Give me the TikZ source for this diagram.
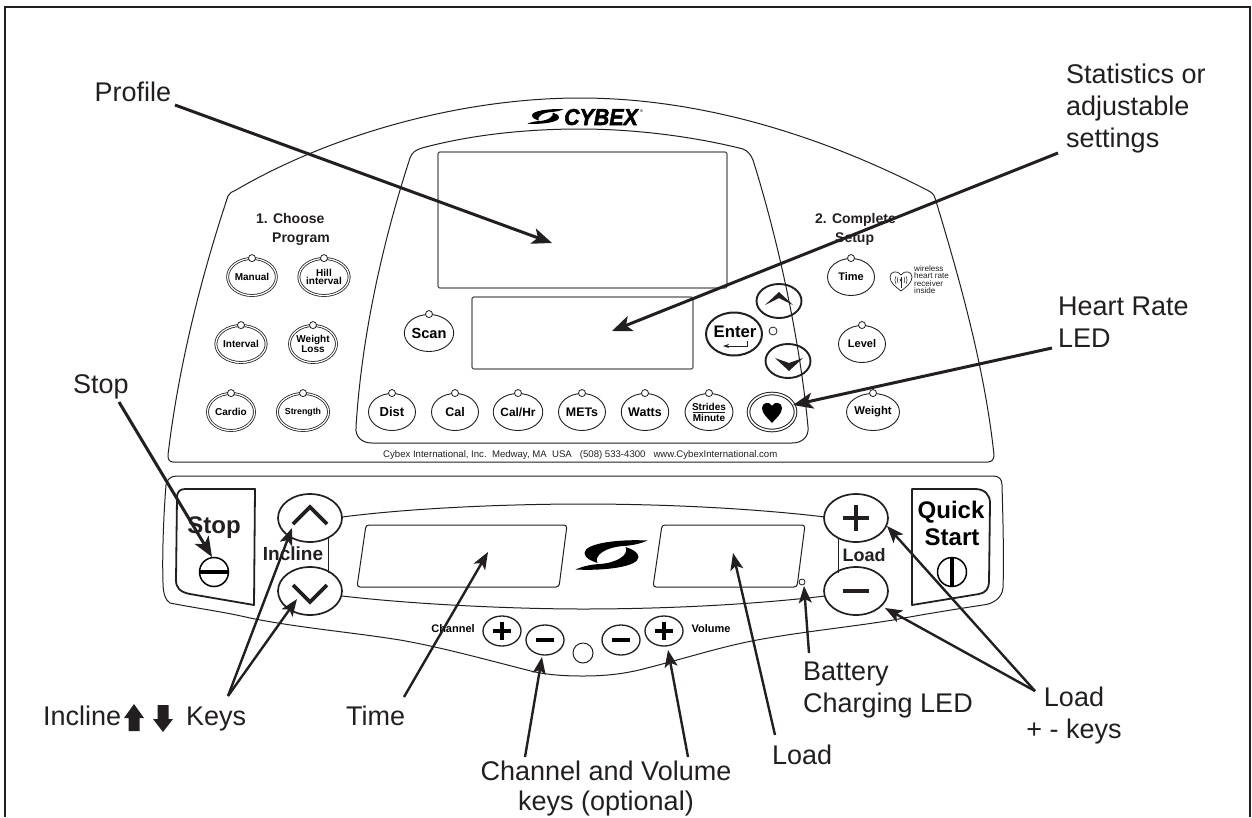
\documentclass[tikz,border=0pt]{standalone}
\usepackage{fontspec}
\setmainfont{Liberation Sans}
\newfontfamily\logofont[FakeBold=2.2]{Liberation Sans}
\usetikzlibrary{arrows.meta,shapes.geometric,calc}
\definecolor{ink}{HTML}{231F20}
\definecolor{grayline}{HTML}{58595B}
\newcommand\fsb[1]{\fontsize{#1}{#1}\selectfont\bfseries}
\newcommand\logoswoosh[3]{%
  \begin{scope}[shift={(#1,#2)},scale=#3]
    \fill[black] (36,-14.5) .. controls (8,-16) and (-27,-12) .. (-27,-2)
       .. controls (-27,3) and (-20,6) .. (-14,8)
       .. controls (-18,0) and (-5,-8) .. (12,-9)
       .. controls (20,-9.5) and (28,-11) .. cycle;
    \fill[black] (-36,14.5) .. controls (-8,16) and (27,12) .. (27,2)
       .. controls (27,-3) and (20,-6) .. (14,-8)
       .. controls (18,0) and (5,8) .. (-12,9)
       .. controls (-20,9.5) and (-28,11) .. cycle;
  \end{scope}}
\tikzset{
  callout/.style={font=\fontsize{27}{32}\selectfont,text=ink,inner sep=0,anchor=base west,align=left},
  paneltext/.style={font=\fsb{14},text=ink,inner sep=0,anchor=base west},
  panelline/.style={draw=ink,line width=1},
  dispbox/.style={draw=grayline,line width=1.2,rounded corners=2},
  btn/.style={ellipse,draw=ink,line width=.9,minimum width=47,minimum height=37,inner sep=0,align=center,text=black},
  ringbtn/.style={btn,double,double distance=1.2,line width=.8},
  ledspot/.style={circle,draw=ink,fill=white,line width=.8,minimum size=7,inner sep=0},
  navbtn/.style={ellipse,draw=ink,line width=1.9,minimum width=45,minimum height=34,inner sep=0},
  bigkey/.style={ellipse,draw=ink,line width=1.7,minimum width=64,minimum height=48,inner sep=0},
  smallkey/.style={ellipse,draw=ink,line width=1.3,minimum width=38,minimum height=30,inner sep=0},
  glyphline/.style={draw=ink,line width=3.6},
  smallglyph/.style={draw=black,line width=3.8},
  keybox/.style={draw=ink,line width=1.8,line join=round},
  pointer/.style={draw=ink,line width=3,-{Stealth[length=20pt,width=16pt,inset=5pt]}},
  pointerthin/.style={draw=ink,line width=2.4,-{Stealth[length=17pt,width=13pt,inset=4pt]}}
}
\begin{document}
\begin{tikzpicture}[x=1pt,y=-1pt]
\useasboundingbox (0,0) rectangle (1252,817);
\fill[white] (0,0) rectangle (1252,817);
% frame
\draw[ink,line width=2.2] (5,817) -- (5,7) -- (1250,7) -- (1250,817);

% upper panel
\draw[panelline] (236,190) .. controls (330,135) and (460,98) .. (580,98)
  .. controls (700,98) and (820,135) .. (927,190)
  .. controls (931,192) and (934,194) .. (935,198)
  .. controls (960,280) and (985,370) .. (994,455)
  .. controls (994,459) and (992,462) .. (988,462)
  -- (173,462) .. controls (169,462) and (168,459) .. (168,455)
  .. controls (178,370) and (200,280) .. (228,196)
  .. controls (229,193) and (232,192) .. cycle;
\draw[panelline] (422,148) .. controls (470,135) and (525,129) .. (580,129)
  .. controls (640,129) and (700,138) .. (743,149)
  .. controls (748,151) and (751,155) .. (753,160)
  .. controls (778,240) and (800,340) .. (808,427)
  .. controls (809,437) and (802,443) .. (792,443)
  -- (372,443) .. controls (362,443) and (355,437) .. (356,427)
  .. controls (362,330) and (385,235) .. (410,158)
  .. controls (412,152) and (416,150) .. cycle;
\draw[dispbox] (438,152) rectangle (727,288);
\draw[dispbox] (472,297) rectangle (693,369);

% upper logo
\logoswoosh{545.5}{116.5}{.5}
\node[inner sep=0,anchor=base west,font=\fontsize{23}{23}\logofont\bfseries\itshape,xscale=.93] (brand) at (564,125) {CYBEX};
\node[inner sep=0,anchor=base west,font=\fontsize{4}{4}\selectfont] (brandreg) at (640,112) {®};

% headings
\node[paneltext] (choose1) at (256,223) {1. Choose};
\node[paneltext] (choose2) at (272,242) {Program};
\node[paneltext] (setup1) at (815,223) {2. Complete};
\node[paneltext] (setup2) at (835,242) {Setup};

% program buttons
\node[ringbtn,font={\fsb{10}}] (manual) at (252,277) {Manual};
\node[ringbtn,font={\fontsize{10}{8.5}\selectfont\bfseries}] (hill) at (324,277) {Hill\\interval};
\node[ringbtn,font={\fsb{10}}] (interval) at (241,344) {Interval};
\node[ringbtn,font={\fontsize{10}{8.5}\selectfont\bfseries}] (wloss) at (313,344) {Weight\\Loss};
\node[ringbtn,font={\fsb{10}}] (cardio) at (231,412) {Cardio};
\node[ringbtn,font={\fsb{8.8}}] (strength) at (303,412) {Strength};
% display buttons
\node[btn,font={\fsb{14.6}}] (scan) at (429,333) {Scan};
\node[btn,font={\fsb{13}}] (dist) at (392,412) {Dist};
\node[btn,font={\fsb{12.5}}] (cal) at (455,412) {Cal};
\node[btn,font={\fsb{11.9}}] (calhr) at (518,412) {Cal/Hr};
\node[btn,font={\fsb{12.4}}] (mets) at (582,412) {METs};
\node[btn,font={\fsb{12.5}}] (watts) at (645,412) {Watts};
\node[btn,font={\fontsize{10}{11}\selectfont\bfseries}] (strides) at (709,412) {Strides\\Minute};
\draw[ink,line width=.8] ($(strides)+(-16,0)$) -- ($(strides)+(16,0)$);
\node[btn,font={\fsb{11}}] (timeset) at (851,277) {Time};
\node[btn,font={\fsb{11}}] (level) at (862,344) {Level};
\node[btn,font={\fsb{11.3}}] (weight) at (873,412) {Weight};
\foreach \b in {manual,hill,interval,wloss,cardio,strength,scan,dist,cal,calhr,mets,watts,strides,timeset,level,weight}
  \node[ledspot] (\b led) at (\b.north) {};

% heart button
\node[ringbtn,line width=1,double distance=1.6] (heartbtn) at (772,412) {};
\fill[black] (772,423) .. controls (768,418) and (762,414) .. (762,408)
  .. controls (762,402) and (770,401) .. (772,406)
  .. controls (774,401) and (782,402) .. (782,408)
  .. controls (782,414) and (776,418) .. cycle;

% nav buttons
\node[navbtn] (navup) at (779,301) {};
\fill[ink] (765,305) -- (779,292) -- (793,305) -- (779,298) -- cycle;
\node[navbtn] (navdown) at (788,361) {};
\fill[ink] (775,358) -- (789,363) -- (803,358) -- (789,371) -- cycle;
\node[ellipse,draw=ink,line width=2,minimum width=56,minimum height=43,inner sep=0] (enter) at (734,334) {};
\node[inner sep=0,font={\fsb{16.7}}] (entertext) at (735,332) {Enter};
\draw[ink,line width=.9,-{Stealth[length=6pt,width=4pt]}] (747,341) -- (747,346) -- (723,346);
\node[ledspot,minimum size=8] (navled) at (773,331) {};

% wireless note
\draw[ink,line width=.7] (901,291) .. controls (896,287) and (890,283) .. (890,277)
  .. controls (890,271) and (898,270) .. (901,275)
  .. controls (904,270) and (912,271) .. (912,277)
  .. controls (912,283) and (906,287) .. cycle;
\draw[ink,line width=.8] (901,277) -- (901,288);
\fill[ink] (901,280) circle (1.3);
\draw[ink,line width=.5] (898,277) .. controls (897,279) and (897,281) .. (898,283)
  (896,276) .. controls (894.5,279) and (894.5,281) .. (896,284)
  (904,277) .. controls (905,279) and (905,281) .. (904,283)
  (906,276) .. controls (907.5,279) and (907.5,281) .. (906,284);
\node[inner sep=0,anchor=north west,align=left,text=ink,font=\fontsize{8.1}{7.5}\selectfont] (wireless) at (914,265) {wireless\\heart rate\\receiver\\inside};

% footer
\node[inner sep=0,anchor=base west,text=ink,font=\fontsize{9.6}{10}\selectfont] (footer) at (383,457) {Cybex International, Inc.\ \ Medway, MA\ \ USA\ \ \ (508) 533-4300\ \ \ www.CybexInternational.com};

% lower panel
\draw[panelline] (177,476) -- (993,476) .. controls (999,476) and (1002,479) .. (1002,485)
  .. controls (1003,520) and (1004,560) .. (1003,588)
  .. controls (1002,598) and (993,604) .. (983,605)
  .. controls (950,610) and (920,615) .. (893,620)
  .. controls (850,627) and (800,632) .. (757,640)
  .. controls (720,647) and (690,657) .. (647,668)
  .. controls (625,674) and (605,676) .. (583,676)
  .. controls (565,676) and (545,675) .. (527,670)
  .. controls (480,658) and (440,647) .. (400,640)
  .. controls (350,632) and (300,628) .. (250,618)
  .. controls (225,612) and (195,608) .. (170,603)
  .. controls (165,600) and (163,592) .. (163,583)
  .. controls (162,550) and (164,510) .. (166,485)
  .. controls (167,479) and (171,476) .. cycle;
% band lines
\draw[panelline] (342,517) .. controls (420,507) and (520,504) .. (583,504) .. controls (660,504) and (750,508) .. (825,517);
\draw[panelline] (342,596) .. controls (420,605) and (520,609) .. (583,609) .. controls (660,609) and (750,605) .. (825,596);
\draw[panelline] (328,538) -- (328,573);
\draw[panelline] (838,538) -- (838,573);
% displays
\draw[draw=ink,line width=1,rounded corners=3] (366,525) -- (567,525) -- (559,587) -- (357,587) -- cycle;
\draw[draw=ink,line width=1,rounded corners=3] (662,525) -- (805,525) -- (797,587) -- (653,587) -- cycle;
\logoswoosh{611.5}{555}{1}
% stop key
\draw[keybox] (185,489) -- (255,489) -- (254,605) -- (190,594) .. controls (180,592) and (176,588) .. (176,580) -- (177,497) .. controls (177,492) and (180,489) .. cycle;
\node[inner sep=0,text=ink,font={\fsb{24}}] (stoptext) at (214,528) {Stop};
\node[circle,draw=black,line width=1.5,minimum size=29,inner sep=0] (stopmark) at (214,572) {};
\draw[black,line width=3.6] (stopmark.west) -- (stopmark.east);
% quick start key
\draw[keybox] (912,489) -- (975,489) .. controls (985,489) and (990,495) .. (990,503) -- (989,582) .. controls (989,589) and (985,593) .. (979,594) -- (912,605) -- cycle;
\node[inner sep=0,text=black,font={\fsb{24}}] (quick) at (951,512) {Quick};
\node[inner sep=0,text=black,font={\fsb{24}}] (start) at (952,537) {Start};
\node[circle,draw=black,line width=1.5,minimum size=29,inner sep=0] (startmark) at (952,572) {};
\draw[black,line width=3.6] (startmark.north) -- (startmark.south);
% incline
\node[bigkey] (inclup) at (310,518) {};
\node[bigkey] (incldown) at (310,591) {};
\draw[glyphline] (293,524) -- (310,507) -- (327,524);
\draw[glyphline] (293,585) -- (310,602) -- (327,585);
\node[inner sep=0,text=ink,font={\fsb{19}}] (incline) at (293,554) {Incline};
% load
\node[bigkey] (loadplus) at (856,518) {};
\node[bigkey] (loadminus) at (856,591) {};
\draw[glyphline] (843,518) -- (869,518) (856,505) -- (856,531);
\draw[glyphline] (843,591) -- (869,591);
\node[inner sep=0,text=ink,font={\fsb{18}}] (loadtext) at (864,555) {Load};
\node[ledspot,minimum size=6] (chargeled) at (802,582) {};
% channel / volume
\node[inner sep=0,text=black,font={\fsb{11}}] (channel) at (453,629) {Channel};
\node[smallkey] (chplus) at (502,631) {};
\node[smallkey] (chminus) at (545,640) {};
\node[circle,draw=ink,line width=1,minimum size=20,inner sep=0] (audiojack) at (583,653) {};
\node[smallkey] (volminus) at (621,640) {};
\node[smallkey] (volplus) at (664,631) {};
\node[inner sep=0,text=black,font={\fsb{11}}] (volume) at (711,629) {Volume};
\draw[smallglyph] (493,631) -- (511,631) (502,622) -- (502,640);
\draw[smallglyph] (536,640) -- (554,640);
\draw[smallglyph] (612,640) -- (630,640);
\draw[smallglyph] (655,631) -- (673,631) (664,622) -- (664,640);

% callout labels (a multi-line node sits on its last baseline)
\node[callout] (lprofile) at (94.5,101) {Profile};
\node[callout] (lstats) at (1066,147) {Statistics or\\adjustable\\settings};
\node[callout] (lheart) at (1058,347) {Heart Rate\\LED};
\node[callout] (lstop) at (73,393) {Stop};
\node[callout] (lincline) at (43,725) {Incline};
\node[callout] (lkeys) at (186,725) {Keys};
\fill[ink] (134,704) -- (144,718) -- (139.5,718) -- (139.5,731) -- (128.5,731) -- (128.5,718) -- (124,718) -- cycle;
\fill[ink] (163,732) -- (173,719) -- (168.5,719) -- (168.5,705) -- (157.5,705) -- (157.5,719) -- (153,719) -- cycle;
\node[callout] (ltime) at (346,725) {Time};
\node[callout,align=center,anchor=base,font=\fontsize{27}{30}\selectfont] (lchannel) at (606,810.5) {Channel and Volume\\keys (optional)};
\node[callout] (lload) at (772,764) {Load};
\node[callout] (lbattery) at (803,712) {Battery\\Charging LED};
\node[callout,align=center,anchor=base] (lloadkeys) at (1074,738) {Load\\+ - keys};

% connector ends
\coordinate (sprofile) at (175,105); \coordinate (tprofile) at (552,243);
\coordinate (sstats) at (1058,153); \coordinate (tstats) at (612,331);
\coordinate (sheart) at (1052,348); \coordinate (theart) at (793,405);
\coordinate (sstop) at (119,402); \coordinate (tstop) at (212,557);
\coordinate (sincl) at (228,696); \coordinate (tinclup) at (292,528); \coordinate (tincldown) at (297,599);
\coordinate (stime) at (404,697); \coordinate (ttime) at (488,552);
\coordinate (schan) at (525,757); \coordinate (tchan) at (542,657);
\coordinate (svol) at (688,757); \coordinate (tvol) at (668,650);
\coordinate (sload) at (775,735); \coordinate (tload) at (733,553);
\coordinate (sbatt) at (809,653); \coordinate (tbatt) at (804,586);
\coordinate (sloadk) at (1035,691); \coordinate (tplus) at (887,526); \coordinate (tminus) at (885,608);

\draw[pointer] (sprofile) -- (tprofile);
\draw[pointer] (sstats) -- (tstats);
\draw[pointer] (sheart) -- (theart);
\draw[pointer] (sstop) -- (tstop);
\draw[pointerthin] (sincl) -- (tinclup);
\draw[pointerthin] (sincl) -- (tincldown);
\draw[pointerthin] (stime) -- (ttime);
\draw[pointerthin] (schan) -- (tchan);
\draw[pointerthin] (svol) -- (tvol);
\draw[pointerthin] (sload) -- (tload);
\draw[pointerthin] (sbatt) -- (tbatt);
\draw[pointerthin] (sloadk) -- (tplus);
\draw[pointerthin] (sloadk) -- (tminus);
\end{tikzpicture}
\end{document}
